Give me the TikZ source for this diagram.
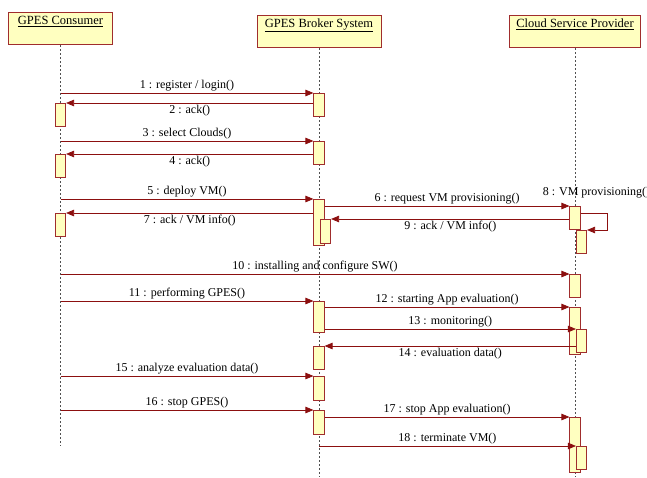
\documentclass[tikz,border=0pt]{standalone}
\usepackage{fontspec}
\setmainfont{Liberation Serif}
\usetikzlibrary{arrows.meta, positioning}

\definecolor{boxfill}{RGB}{255,255,192}
\definecolor{boxline}{RGB}{160,45,45}
\definecolor{callline}{RGB}{140,15,15}
\definecolor{lifeline}{RGB}{80,80,80}

\begin{document}
\begin{tikzpicture}[
            x = 1pt, y = -1pt,
            > = {Triangle[length=8pt, width=6.5pt]}, % arrow head style
            font = \fontsize{12}{14}\selectfont,
            semithick % line style
        ]

        \tikzstyle{head}=[
            draw = boxline,
            fill = boxfill,
            line width = 1pt,
            anchor = north,
            font = \fontsize{12.5}{14}\selectfont,
            minimum height = 32pt,
            text height = 9pt,
            text depth = 17pt,
            inner sep = 3pt
        ]
        \tikzstyle{act}=[
            draw = boxline,
            fill = boxfill,
            anchor = north,
            minimum width = 10.5pt,
            inner sep = 0pt
        ]
        \tikzstyle{call}=[
            ->,
            draw = callline,
            line width = 0.8pt
        ]
        \tikzstyle{life}=[
            draw = lifeline,
            line width = 0.7pt,
            dash pattern = on 2pt off 2pt
        ]
        \tikzstyle{lbl}=[
            text = black,
            inner sep = 1.5pt
        ]

        \useasboundingbox (0,0) rectangle (647,477);

        % headers
        \node[head, minimum width=104pt] (consumer) at (60.5,12) {\underline{GPES Consumer}};
        \node[head, minimum width=124pt] (broker) at (319,15) {\underline{GPES Broker System}};
        \node[head, minimum width=131pt] (provider) at (575,15) {\underline{Cloud Service Provider}};

        % lifelines
        \coordinate (consumerend) at (60.5,446);
        \coordinate (brokerend) at (319,477);
        \coordinate (providerend) at (575,477);
        \draw[life] (consumer) -- (consumerend);
        \draw[life] (broker) -- (brokerend);
        \draw[life] (provider) -- (providerend);

        % activations
        \node[act, minimum height=23pt] (bA) at (319,93) {};
        \node[act, minimum height=23pt] (bB) at (319,141) {};
        \node[act, minimum height=46pt] (bC) at (319,199) {};
        \node[act, minimum height=24pt] (bC2) at (325.5,219) {};
        \node[act, minimum height=31pt] (bD) at (319,301) {};
        \node[act, minimum height=23pt] (bE) at (319,346) {};
        \node[act, minimum height=24pt] (bF) at (319,376) {};
        \node[act, minimum height=24pt] (bG) at (319,410) {};

        \node[act, minimum height=23pt] (cA) at (60.5,103) {};
        \node[act, minimum height=23pt] (cB) at (60.5,154) {};
        \node[act, minimum height=23pt] (cC) at (60.5,213) {};

        \node[act, minimum height=23pt] (pA) at (575,206) {};
        \node[act, minimum height=23pt] (pA2) at (581.5,230) {};
        \node[act, minimum height=23pt] (pB) at (575,274) {};
        \node[act, minimum height=47pt] (pC) at (575,307) {};
        \node[act, minimum height=23pt] (pC2) at (581.5,329) {};
        \node[act, minimum height=55pt] (pD) at (575,417) {};
        \node[act, minimum height=23pt] (pD2) at (581.5,446) {};

        % messages
        \draw[call] (consumer |- bA.north) -- node[lbl, above] {1 : register / login()} (bA.north west);
        \draw[call] (bA.west |- cA.north) -- node[lbl, below] {2 : ack()} (cA.north east);
        \draw[call] (consumer |- bB.north) -- node[lbl, above] {3 : select Clouds()} (bB.north west);
        \draw[call] (bB.west |- cB.north) -- node[lbl, below] {4 : ack()} (cB.north east);
        \draw[call] (consumer |- bC.north) -- node[lbl, above] {5 : deploy VM()} (bC.north west);
        \draw[call] (bC.east |- pA.north) -- node[lbl, above] {6 : request VM provisioning()} (pA.north west);
        \draw[call] (bC.west |- cC.north) -- node[lbl, below] {7 : ack / VM info()} (cC.north east);
        \draw[call] ([yshift=-7pt]pA.north east) -| ([xshift=20pt]pA2.north east) -- (pA2.north east);
        \node[lbl, anchor=base west] (selfcall) at (541,195) {8 : VM provisioning()};
        \draw[call] (pA.west |- bC2.north) -- node[lbl, below] {9 : ack / VM info()} (bC2.north east);
        \draw[call] (consumer |- pB.north) -- node[lbl, above] {10 : installing and configure SW()} (pB.north west);
        \draw[call] (consumer |- bD.north) -- node[lbl, above] {11 : performing GPES()} (bD.north west);
        \draw[call] (bD.east |- pC.north) -- node[lbl, above] {12 : starting App evaluation()} (pC.north west);
        \draw[call] (bD.east |- pC2.north) -- node[lbl, above] {13 : monitoring()} (pC2.north west);
        \draw[call] (pC2.west |- bE.north) -- node[lbl, below] {14 : evaluation data()} (bE.north east);
        \draw[call] (consumer |- bF.north) -- node[lbl, above] {15 : analyze evaluation data()} (bF.north west);
        \draw[call] (consumer |- bG.north) -- node[lbl, above] {16 : stop GPES()} (bG.north west);
        \draw[call] (bG.east |- pD.north) -- node[lbl, above] {17 : stop App evaluation()} (pD.north west);
        \draw[call] (broker |- pD2.north) -- node[lbl, above] {18 : terminate VM()} (pD2.north west);

  \end{tikzpicture}
\end{document}
